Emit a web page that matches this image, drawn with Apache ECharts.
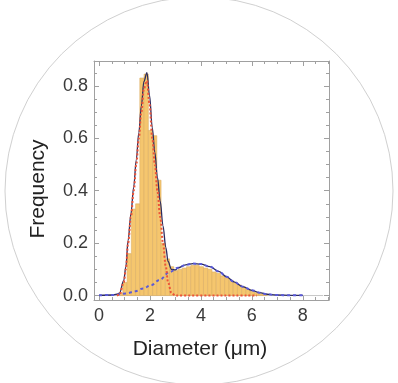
<!DOCTYPE html>
<html>
<head>
<meta charset="utf-8">
<script src="https://cdn.jsdelivr.net/npm/echarts@6/dist/echarts.min.js"></script>
<style>html,body{margin:0;padding:0;background:#fff;}#c{width:398px;height:383px;}</style>
</head>
<body>
<div id="c"></div>
<script>
// ---- data ----
const binStart = 0.767;
const binWidth = 1 / 6;
const binFreq = [0.01, 0.05, 0.16, 0.33, 0.35, 0.83, 0.845, 0.63, 0.61, 0.44, 0.2, 0.14,
  0.11, 0.095, 0.10, 0.105, 0.11, 0.115, 0.115, 0.11, 0.105, 0.10, 0.09, 0.085, 0.075,
  0.068, 0.058, 0.05, 0.04, 0.032, 0.024, 0.017, 0.011, 0.006, 0.003];

const redX = [0.7, 0.8, 0.97, 1.05, 1.14, 1.25, 1.36, 1.46, 1.56, 1.66, 1.76, 1.88, 1.98, 2.09, 2.19, 2.29, 2.40, 2.51, 2.62, 2.71, 2.84, 3.0, 6.2];
const redY = [0.0, 0.003, 0.05, 0.1, 0.2, 0.3, 0.4, 0.5, 0.6, 0.7, 0.79, 0.82, 0.73, 0.6, 0.5, 0.4, 0.3, 0.2, 0.11, 0.05, 0.01, 0.0, 0.0];

const blueX = [0, 0.5, 1.08, 1.4, 1.73, 2.05, 2.38, 2.77, 3.1, 3.4, 3.69, 4.0, 4.35, 4.7, 5.0, 5.3, 5.64, 6.0, 6.3, 6.6, 6.95, 7.5, 8.0];
const blueY = [0.001, 0.002, 0.008, 0.016, 0.027, 0.04, 0.06, 0.09, 0.106, 0.117, 0.122, 0.12, 0.11, 0.092, 0.072, 0.052, 0.034, 0.02, 0.011, 0.005, 0.002, 0.001, 0.001];

const sumX = [0, 0.5, 0.7, 0.8, 0.97, 1.05, 1.14, 1.25, 1.36, 1.46, 1.56, 1.66, 1.76, 1.88, 1.98, 2.09, 2.19, 2.29, 2.40, 2.51, 2.62, 2.71, 2.84, 3.0,
  3.1, 3.4, 3.69, 4.0, 4.35, 4.7, 5.0, 5.3, 5.64, 6.0, 6.3, 6.6, 6.95, 7.5, 8.0];
const sumY = [0.001, 0.002, 0.005, 0.009, 0.058, 0.109, 0.21, 0.312, 0.415, 0.518, 0.621, 0.724, 0.817, 0.851, 0.765, 0.64, 0.546, 0.452, 0.36, 0.266, 0.184, 0.13, 0.1, 0.098,
  0.106, 0.117, 0.122, 0.12, 0.11, 0.092, 0.072, 0.052, 0.034, 0.02, 0.011, 0.005, 0.002, 0.001, 0.001];

const xMajor = [0, 2, 4, 6, 8];
const xMinor = [0.5, 1, 1.5, 2.5, 3, 3.5, 4.5, 5, 5.5, 6.5, 7, 7.5, 8.5, 9];
const yMajor = [0, 0.2, 0.4, 0.6, 0.8];
const yMinor = [0.05, 0.1, 0.15, 0.25, 0.3, 0.35, 0.45, 0.5, 0.55, 0.65, 0.7, 0.75, 0.85];

const xTitle = 'Diameter (μm)';
const yTitle = 'Frequency';

// ---- build ----
const zip = (a, b) => a.map((v, i) => [v, b[i]]);
const bars = binFreq.map((h, i) => [binStart + i * binWidth, binStart + (i + 1) * binWidth, h]);

const FONT = '"Liberation Sans", Arial, sans-serif';
const frameColor = '#a0a0a0';
const X_MIN = -0.2, X_MAX = 9.03, Y_MIN = -0.017, Y_MAX = 0.895;

function xAx(pos, vals, len, labels, lineShow) {
  return {
    type: 'value', position: pos, min: X_MIN, max: X_MAX,
    axisLine: { show: lineShow, onZero: false, lineStyle: { color: frameColor, width: 1 } },
    axisTick: { show: true, inside: true, length: len, customValues: vals, lineStyle: { color: frameColor } },
    axisLabel: labels ? { show: true, customValues: vals, margin: 7, color: '#3a3a3a', fontSize: 18, fontFamily: FONT, formatter: v => String(v) } : { show: false },
    splitLine: { show: false }
  };
}
function yAx(pos, vals, len, labels, lineShow) {
  return {
    type: 'value', position: pos, min: Y_MIN, max: Y_MAX,
    axisLine: { show: lineShow, onZero: false, lineStyle: { color: frameColor, width: 1 } },
    axisTick: { show: true, inside: true, length: len, customValues: vals, lineStyle: { color: frameColor } },
    axisLabel: labels ? { show: true, customValues: vals, margin: 6, color: '#3a3a3a', fontSize: 18, fontFamily: FONT, formatter: v => v.toFixed(1) } : { show: false },
    splitLine: { show: false }
  };
}

const chart = echarts.init(document.getElementById('c'), null, { renderer: 'canvas' });
chart.setOption({
  animation: false,
  backgroundColor: '#fff',
  grid: { left: 94, top: 61, width: 235, height: 239, containLabel: false },
  xAxis: [
    xAx('bottom', xMajor, 5, true, true),
    xAx('bottom', xMinor, 3, false, false),
    xAx('top', xMajor, 5, false, true),
    xAx('top', xMinor, 3, false, false)
  ],
  yAxis: [
    yAx('left', yMajor, 5, true, true),
    yAx('left', yMinor, 3, false, false),
    yAx('right', yMajor, 5, false, true),
    yAx('right', yMinor, 3, false, false)
  ],
  graphic: [
    { type: 'circle', shape: { cx: 199, cy: 191, r: 194 }, style: { fill: 'none', stroke: '#d0d0d0', lineWidth: 1 }, z: -10, silent: true },
    { type: 'text', x: 200, y: 349, style: { text: xTitle, font: '21px ' + FONT, fill: '#222', align: 'center', verticalAlign: 'middle' } },
    { type: 'text', x: 38, y: 189, rotation: Math.PI / 2, style: { text: yTitle, font: '21px ' + FONT, fill: '#222', align: 'center', verticalAlign: 'middle' } }
  ],
  series: [
    {
      type: 'line', data: [[0, 0], [8.8, 0]], symbol: 'none', silent: true,
      lineStyle: { color: '#c8c8c8', width: 1 }, z: 1
    },
    {
      type: 'custom', data: bars, encode: { x: [0, 1], y: 2 }, z: 2,
      renderItem: function (params, api) {
        const p0 = api.coord([api.value(0), api.value(2)]);
        const p1 = api.coord([api.value(1), 0]);
        return {
          type: 'rect',
          shape: { x: p0[0], y: p0[1], width: p1[0] - p0[0], height: p1[1] - p0[1] },
          style: { fill: '#f5c66e', stroke: '#dcae64', lineWidth: 0.6 }
        };
      }
    },
    {
      type: 'line', data: zip(sumX, sumY), symbol: 'none', smooth: 0.35, smoothMonotone: 'x',
      lineStyle: { color: '#2c2c5e', width: 1.3 }, z: 3
    },
    {
      type: 'line', data: zip(blueX, blueY), symbol: 'none', smooth: 0.35, smoothMonotone: 'x',
      lineStyle: { color: '#5a5ad8', width: 2, type: [3, 3] }, z: 4
    },
    {
      type: 'line', data: zip(redX, redY), symbol: 'none', smooth: 0.35, smoothMonotone: 'x',
      lineStyle: { color: '#ec5438', width: 2, type: [2, 2] }, z: 5
    }
  ]
});
</script>
</body>
</html>
